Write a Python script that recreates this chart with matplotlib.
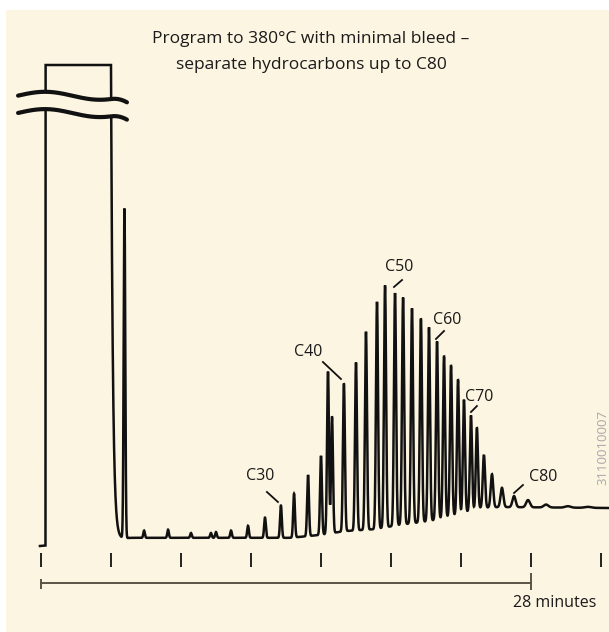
import numpy as np
import matplotlib
matplotlib.use('Agg')
import matplotlib.pyplot as plt

plt.rcParams['font.family'] = ['Open Sans', 'DejaVu Sans']

# retention time (min) and height above baseline (arbitrary units, 100 = off scale)
peak_times = [4.77, 5.89, 7.26, 8.57, 9.71, 10.00, 10.86, 11.83, 12.80, 13.71,
              14.46, 15.26, 16.00, 16.40, 16.63, 17.31, 18.00, 18.57, 19.20, 19.66,
              20.23, 20.69, 21.20, 21.71, 22.17, 22.63, 23.03, 23.43, 23.83, 24.17,
              24.57, 24.91, 25.31, 25.77, 26.34, 27.03, 27.83, 28.86, 30.11, 31.26]
peak_heights = [68.4, 1.5, 1.7, 1.0, 1.0, 1.2, 1.5, 2.5, 4.2, 6.7,
                9.1, 12.7, 16.4, 33.7, 24.1, 30.6, 34.9, 41.2, 47.2, 50.3,
                48.4, 47.2, 44.7, 42.2, 40.3, 37.0, 33.5, 31.2, 27.9, 23.5,
                19.8, 16.8, 11.0, 6.9, 4.0, 2.3, 1.5, 0.6, 0.3, 0.2]

# baseline drift (column bleed)
base_t = [-0.06, 5.09, 14.23, 15.94, 17.37, 19.09, 20.51, 22.23, 23.94, 25.09, 26.23, 32.46]
base_s = [0.0, 1.7, 1.7, 2.3, 3.1, 3.5, 4.4, 5.2, 6.7, 7.9, 8.1, 7.9]

# peak widths (sigma, min) vs time
width_t = [0, 14, 20, 25, 27, 32]
width_sigma = [0.04, 0.05, 0.06, 0.06, 0.09, 0.2]

# solvent peak, off scale
solvent_start, solvent_end, solvent_tail = 0.26, 4.0, 0.106
off_scale = 100.0

label_names = ['C30', 'C40', 'C50', 'C60', 'C70', 'C80']

tick_times = [0, 4, 8, 12, 16, 20, 24, 28, 32]
scale_minutes = 28

bg = '#fcf5e1'

# build trace
t = np.arange(-0.06, 32.5, 0.004)
s = np.interp(t, base_t, base_s)
sig = np.interp(peak_times, width_t, width_sigma)
for pt, ph, sg in zip(peak_times, peak_heights, sig):
    if pt < 5:
        sg = 0.045
    s += ph * np.exp(-0.5 * ((t - pt) / sg) ** 2)
solv = np.where((t >= solvent_start) & (t <= solvent_end), 1000.0, 0.0)
solv += np.where(t > solvent_end, 100.0 * np.exp(-(t - solvent_end) / solvent_tail), 0.0)
s = np.minimum(s + solv, off_scale)

fig = plt.figure(figsize=(6.09, 6.32), dpi=100, facecolor='white')
ax = fig.add_axes([6 / 609, 0, 603 / 609, 622 / 632])
ax.set_facecolor(bg)
for sp in ax.spines.values():
    sp.set_visible(False)
ax.set_xticks([])
ax.set_yticks([])
ax.set_xlim((6 - 41) / 17.5, (609 - 41) / 17.5)
ax.set_ylim((546 - 632) / 4.81, (546 - 10) / 4.81)

ax.plot(t, s, color='#111111', lw=1.8, solid_joinstyle='miter')

# break marks over the solvent peak
xw = np.linspace(-1.31, 4.91, 200)
wave = -0.83 * np.sin(2 * np.pi * (xw - 1.8) / 6.29)
wave += -1.3 * np.clip((xw - 4.0) / 0.9, 0, None) ** 2
ax.fill_between(xw, 90.0 + wave, 93.6 + wave, color=bg, zorder=3, lw=0)
ax.plot(xw, 93.6 + wave, color='#111111', lw=3.0, solid_capstyle='round', zorder=4)
ax.plot(xw, 90.0 + wave, color='#111111', lw=3.0, solid_capstyle='round', zorder=4)

# time ticks and scale bar
ax.vlines(tick_times, -4.37, -1.46, color='#222222', lw=1.4)
ax.plot([0, scale_minutes], [-7.69, -7.69], color='#5b5446', lw=1.4)
ax.vlines([0], -8.94, -6.86, color='#5b5446', lw=1.4)
ax.vlines([scale_minutes], -9.15, -5.6, color='#5b5446', lw=1.4)
ax.text(29.37, -11.85, f'{scale_minutes} minutes', ha='center', va='center',
        fontsize=11.5, color='#1a1a1a')

# carbon number labels
label_text_xy = [(12.51, 14.55), (15.26, 40.33), (20.46, 58.0),
                 (23.2, 47.0), (25.03, 31.0), (28.69, 14.3)]
label_lines = [((13.54, 9.15), (12.91, 11.23)), ((17.14, 34.72), (16.11, 38.25)),
               ((20.17, 53.85), (20.63, 55.30)), ((22.57, 43.04), (23.03, 44.7)),
               ((24.57, 27.86), (24.91, 29.1)), ((27.03, 11.02), (27.54, 12.68))]
for name, (tx, ty), (p0, p1) in zip(label_names, label_text_xy, label_lines):
    ax.text(tx, ty, name, ha='center', va='center', fontsize=11.5, color='#1a1a1a')
    ax.plot([p0[0], p1[0]], [p0[1], p1[1]], color='#111111', lw=1.3)

ax.text(15.43, 105.4, 'Program to 380°C with minimal bleed –', ha='center', va='center',
        fontsize=12.5, color='#1a1a1a')
ax.text(15.43, 100.0, 'separate hydrocarbons up to C80', ha='center', va='center',
        fontsize=12.5, color='#1a1a1a')

ax.text(32.1, 20.4, '3110010007', rotation=90, ha='center', va='center',
        fontsize=9.5, color='#a8a8a8')

fig.savefig('out.png', dpi=100, facecolor='white')
